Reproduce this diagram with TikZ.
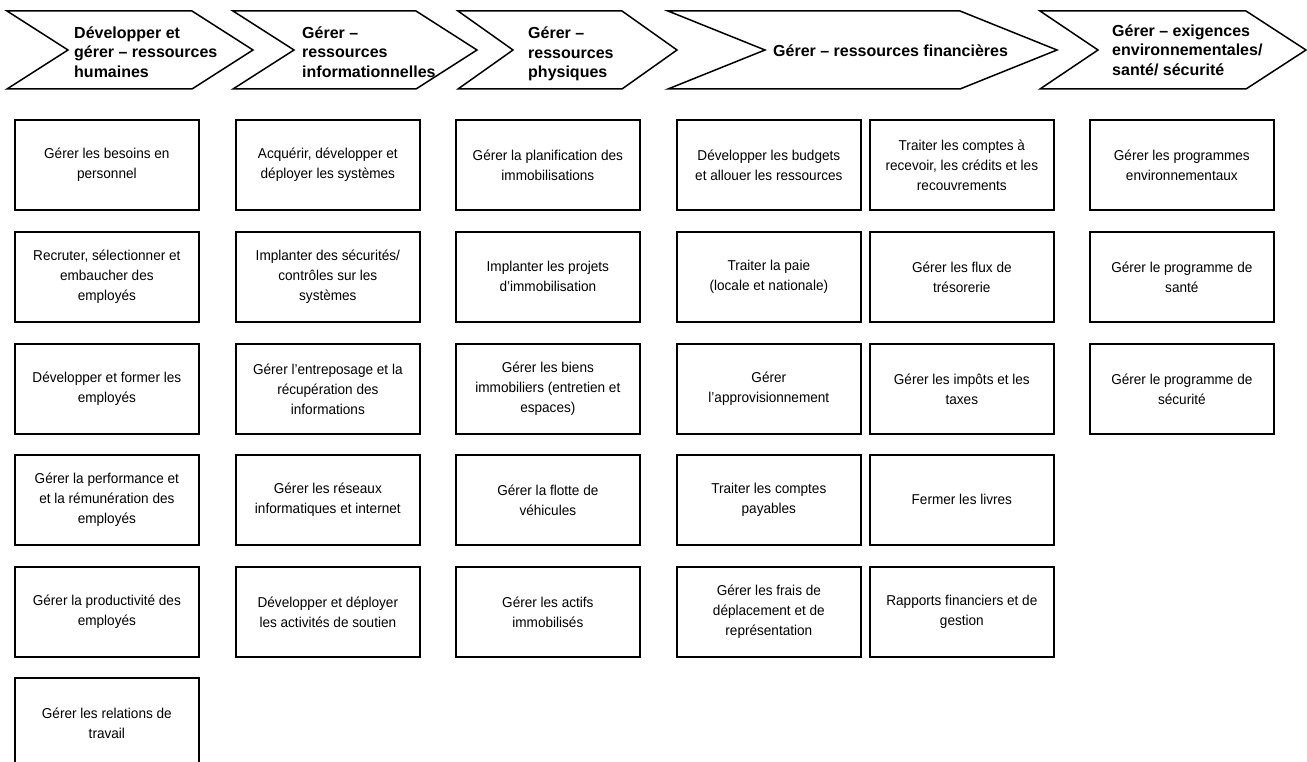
\documentclass[tikz,border=0pt]{standalone}
\usepackage{fontspec}
\setmainfont{Liberation Sans}
\newfontfamily\taskfont[FakeStretch=0.95]{Liberation Sans}
\begin{document}
\begin{tikzpicture}[x=1pt,y=-1pt,
  chev/.style={draw=black, line width=1.5pt, fill=white, line join=miter},
  chevtext/.style={anchor=west, align=left, inner sep=0pt,
    font=\bfseries\fontsize{16}{19.5}\selectfont},
  task/.style={draw=black, line width=1.7pt, fill=white, anchor=north west,
    minimum width=184pt, minimum height=90pt, inner sep=0pt, align=center,
    font=\taskfont\fontsize{14.3}{20}\selectfont}]
\useasboundingbox (0,0) rectangle (1307,762);

% process chevrons
\draw[chev] (7,11) -- (192,11) -- (253,50) -- (192,89) -- (7,89) -- (68,50) -- cycle;
\draw[chev] (233,11) -- (416,11) -- (477,50) -- (416,89) -- (233,89) -- (294,50) -- cycle;
\draw[chev] (458,11) -- (622,11) -- (677,50) -- (622,89) -- (458,89) -- (513,50) -- cycle;
\draw[chev] (668,11) -- (960,11) -- (1057,50) -- (960,89) -- (668,89) -- (765,50) -- cycle;
\draw[chev] (1040,11) -- (1246,11) -- (1306,50) -- (1246,89) -- (1040,89) -- (1098,50) -- cycle;

\node[chevtext] (hrT) at (74,52) {Développer et\\gérer – ressources\\humaines};
\node[chevtext] (infoT) at (302,52) {Gérer –\\ressources\\informationnelles};
\node[chevtext] (physT) at (528,54) {Gérer –\\ressources\\physiques};
\node[chevtext] (finT) at (773,51) {Gérer – ressources financières};
\node[chevtext] (envT) at (1112,50) {Gérer – exigences\\environnementales/\\santé/ sécurité};

% human resources
\node[task] (hr1) at (14,119) {Gérer les besoins en\\personnel};
\node[task] (hr2) at (14,231) {Recruter, sélectionner et\\embaucher des\\employés};
\node[task] (hr3) at (14,343) {Développer et former les\\employés};
\node[task] (hr4) at (14,454) {Gérer la performance et\\et la rémunération des\\employés};
\node[task] (hr5) at (14,566) {Gérer la productivité des\\employés};
\node[task] (hr6) at (14,677) {Gérer les relations de\\travail};

% information resources
\node[task] (in1) at (235,119) {Acquérir, développer et\\déployer les systèmes};
\node[task] (in2) at (235,231) {Implanter des sécurités/\\contrôles sur les\\systèmes};
\node[task] (in3) at (235,343) {Gérer l’entreposage et la\\récupération des\\informations};
\node[task] (in4) at (235,454) {Gérer les réseaux\\informatiques et internet};
\node[task] (in5) at (235,566) {Développer et déployer\\les activités de soutien};

% physical resources
\node[task] (ph1) at (455,119) {Gérer la planification des\\immobilisations};
\node[task] (ph2) at (455,231) {Implanter les projets\\d’immobilisation};
\node[task] (ph3) at (455,343) {Gérer les biens\\immobiliers (entretien et\\espaces)};
\node[task] (ph4) at (455,454) {Gérer la flotte de\\véhicules};
\node[task] (ph5) at (455,566) {Gérer les actifs\\immobilisés};

% financial resources
\node[task] (fa1) at (676,119) {Développer les budgets\\et allouer les ressources};
\node[task] (fa2) at (676,231) {Traiter la paie\\(locale et nationale)};
\node[task] (fa3) at (676,343) {Gérer\\l’approvisionnement};
\node[task] (fa4) at (676,454) {Traiter les comptes\\payables};
\node[task] (fa5) at (676,566) {Gérer les frais de\\déplacement et de\\représentation};

\node[task] (fb1) at (869,119) {Traiter les comptes à\\recevoir, les crédits et les\\recouvrements};
\node[task] (fb2) at (869,231) {Gérer les flux de\\trésorerie};
\node[task] (fb3) at (869,343) {Gérer les impôts et les\\taxes};
\node[task] (fb4) at (869,454) {Fermer les livres};
\node[task] (fb5) at (869,566) {Rapports financiers et de\\gestion};

% environment, health and safety
\node[task] (en1) at (1089,119) {Gérer les programmes\\environnementaux};
\node[task] (en2) at (1089,231) {Gérer le programme de\\santé};
\node[task] (en3) at (1089,343) {Gérer le programme de\\sécurité};
\end{tikzpicture}
\end{document}
